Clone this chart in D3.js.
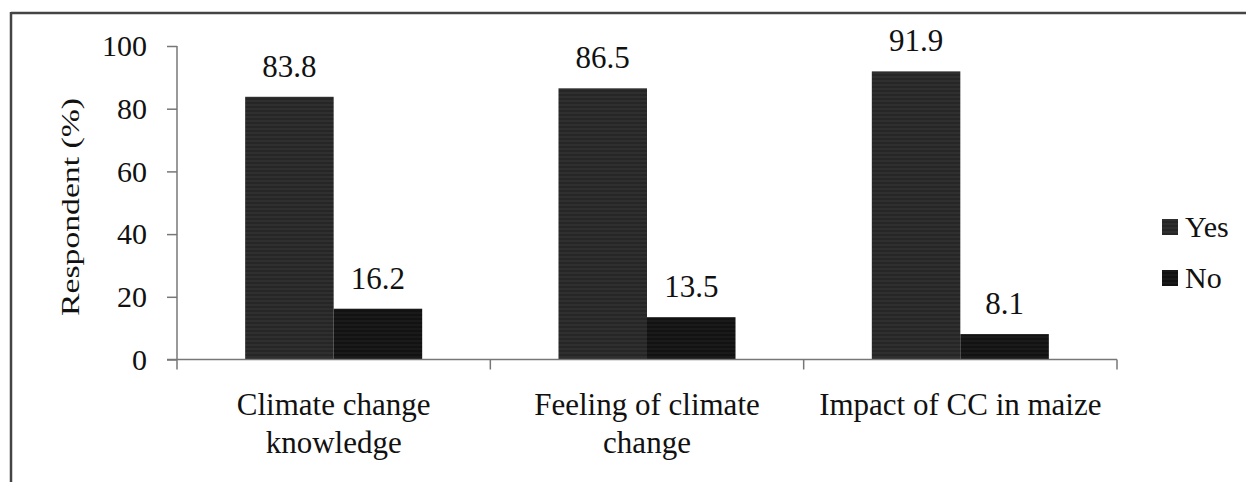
<!DOCTYPE html>
<html>
<head>
<meta charset="utf-8">
<script src="https://cdn.jsdelivr.net/npm/d3@7"></script>
<style>
  svg text { font-family: "Liberation Serif", "Times New Roman", serif !important; }
</style>
</head>
<body>
<script>
// chart values
var categories = [['Climate change', 'knowledge'], ['Feeling of climate', 'change'], ['Impact of CC in maize']];
var seriesNames = ['Yes', 'No'];
var yesValues = [83.8, 86.5, 91.9];
var noValues = [16.2, 13.5, 8.1];
var yTicks = [0, 20, 40, 60, 80, 100];

var chartW = 1246;
var chartH = 482;
var f = '"Liberation Serif"';

d3.select('body').style('margin', '0px');

var svg = d3.select('body').append('svg')
  .attr('width', chartW)
  .attr('height', chartH)
  .style('display', 'block');

// striped fills, the bars in the source have a faint horizontal texture
var defs = svg.append('defs');
var fills = {Yes: ['#2f2f2f', '#262626'], No: ['#1a1a1a', '#121212']};
seriesNames.forEach(function(name) {
  var p = defs.append('pattern')
    .attr('id', 'fill-' + name)
    .attr('patternUnits', 'userSpaceOnUse')
    .attr('width', 8)
    .attr('height', 4);
  p.append('rect').attr('width', 8).attr('height', 4).attr('fill', fills[name][0]);
  p.append('rect').attr('y', 2).attr('width', 8).attr('height', 2).attr('fill', fills[name][1]);
});

// frame lines (top and left edge of the cropped figure)
svg.append('line')
  .attr('x1', 11).attr('x2', chartW).attr('y1', 13).attr('y2', 13)
  .attr('stroke', '#444').attr('stroke-width', 2.5);
svg.append('line')
  .attr('x1', 11).attr('x2', 11).attr('y1', 12).attr('y2', chartH)
  .attr('stroke', '#444').attr('stroke-width', 2.5);

var catKeys = categories.map(function(c) { return c.join(' '); });

var xScale = d3.scaleBand()
  .domain(catKeys)
  .range([177, 1117])
  .paddingInner(0)
  .paddingOuter(0);

var xSub = d3.scaleBand()
  .domain(seriesNames)
  .range([0, xScale.bandwidth()])
  .paddingInner(0)
  .paddingOuter(0.77);

var yScale = d3.scaleLinear()
  .domain([0, 100])
  .range([359.5, 46]);

var rows = catKeys.map(function(k, i) {
  return {key: k, values: [{name: 'Yes', value: yesValues[i]}, {name: 'No', value: noValues[i]}]};
});

// bars
var groups = svg.append('g').selectAll('g')
  .data(rows)
  .enter().append('g')
  .attr('transform', function(d) { return 'translate(' + xScale(d.key) + ',0)'; });

groups.selectAll('rect')
  .data(function(d) { return d.values; })
  .enter().append('rect')
  .attr('x', function(d) { return xSub(d.name); })
  .attr('y', function(d) { return yScale(d.value); })
  .attr('width', xSub.bandwidth())
  .attr('height', function(d) { return yScale(0) - yScale(d.value); })
  .attr('fill', function(d) { return 'url(#fill-' + d.name + ')'; });

groups.selectAll('text.value')
  .data(function(d) { return d.values; })
  .enter().append('text')
  .attr('class', 'value')
  .attr('x', function(d) { return xSub(d.name) + xSub.bandwidth() / 2; })
  .attr('y', function(d) { return yScale(d.value) - 20; })
  .attr('text-anchor', 'middle')
  .attr('font-family', f)
  .attr('font-size', 31)
  .attr('fill', '#111')
  .text(function(d) { return d.value.toFixed(1); });

// y axis
var yAxis = svg.append('g')
  .attr('transform', 'translate(177,0)')
  .call(d3.axisLeft(yScale).tickValues(yTicks).tickSize(10).tickPadding(20));
yAxis.attr('font-family', f).attr('font-size', 30);
yAxis.select('.domain').remove();
yAxis.selectAll('.tick line').attr('stroke', '#777').attr('stroke-width', 1.5);
yAxis.selectAll('.tick text')
  .attr('font-family', f)
  .attr('font-size', 30)
  .attr('fill', '#111');

svg.append('line')
  .attr('x1', 177).attr('x2', 177).attr('y1', yScale(100)).attr('y2', yScale(0))
  .attr('stroke', '#777').attr('stroke-width', 1.5);

// x axis: ticks between categories
var xAxis = svg.append('g')
  .attr('transform', 'translate(0,' + yScale(0) + ')');
xAxis.append('line')
  .attr('x1', 167).attr('x2', 1117)
  .attr('stroke', '#777').attr('stroke-width', 1.5);
var bounds = catKeys.map(function(k) { return xScale(k); }).concat([xScale.range()[1]]);
xAxis.selectAll('line.tick')
  .data(bounds)
  .enter().append('line')
  .attr('class', 'tick')
  .attr('x1', function(d) { return d; })
  .attr('x2', function(d) { return d; })
  .attr('y1', 0).attr('y2', 10)
  .attr('stroke', '#777').attr('stroke-width', 1.5);

var catLabels = svg.append('g').selectAll('text')
  .data(categories)
  .enter().append('text')
  .attr('x', function(d) { return xScale(d.join(' ')) + xScale.bandwidth() / 2; })
  .attr('y', 415)
  .attr('text-anchor', 'middle')
  .attr('font-family', f)
  .attr('font-size', 31)
  .attr('fill', '#111');
catLabels.selectAll('tspan')
  .data(function(d) { return d; })
  .enter().append('tspan')
  .attr('x', function() { return d3.select(this.parentNode).attr('x'); })
  .attr('dy', function(d, i) { return i === 0 ? 0 : 38; })
  .text(function(d) { return d; });

// y axis title
svg.append('text')
  .attr('transform', 'translate(79,207)rotate(-90)')
  .attr('text-anchor', 'middle')
  .attr('textLength', 218)
  .attr('lengthAdjust', 'spacingAndGlyphs')
  .attr('font-family', f)
  .attr('font-size', 26)
  .attr('fill', '#111')
  .text('Respondent (%)');

// legend
var legend = svg.append('g').selectAll('g')
  .data(seriesNames)
  .enter().append('g')
  .attr('transform', function(d, i) { return 'translate(1162,' + (219 + i * 51) + ')'; });
legend.append('rect')
  .attr('width', 16).attr('height', 16)
  .attr('fill', function(d) { return 'url(#fill-' + d + ')'; });
legend.append('text')
  .attr('x', 23).attr('y', 18)
  .attr('font-family', f)
  .attr('font-size', 30)
  .attr('fill', '#111')
  .text(function(d) { return d; });
</script>
</body>
</html>
